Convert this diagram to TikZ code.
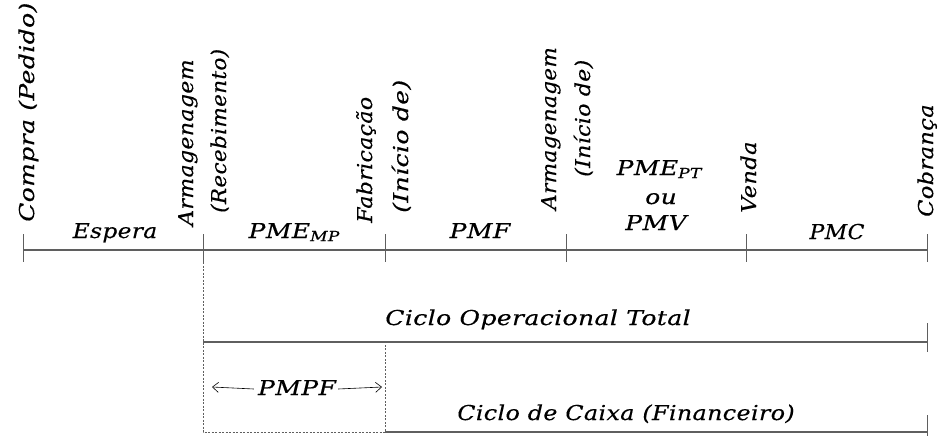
\documentclass[tikz,border=0pt]{standalone}
\usepackage{fontspec}
\usepackage{graphicx}
\setmainfont[FakeStretch=1.22,LetterSpace=2,FakeBold=0.4]{DejaVu Serif}
\usetikzlibrary{arrows.meta}
\definecolor{linegray}{RGB}{95,95,95}
\newcommand{\lowsub}[1]{\raisebox{-0.3ex}{\fontsize{14}{14}\selectfont #1}}
\newcommand{\hsq}[2]{\scalebox{#1}[1]{#2}}
\begin{document}
\begin{tikzpicture}[x=1pt,y=-1pt,
  lbl/.style={font=\fontsize{20.5}{24}\selectfont\itshape, inner sep=0pt, anchor=base},
  rlbl/.style={lbl, rotate=90, anchor=base west},
  axis/.style={draw=linegray, line width=1.1pt},
  tickln/.style={draw=linegray, line width=0.9pt},
  dashln/.style={draw=linegray, line width=0.8pt, dash pattern=on 2pt off 1.5pt},
  arr/.style={draw=black, line width=0.6pt, -{Straight Barb[length=6pt,width=10pt]}}]
\useasboundingbox (0,0) rectangle (941,436);
% main time line
\coordinate (t0) at (23,250);
\coordinate (t1) at (203,250);
\coordinate (t2) at (385,250);
\coordinate (t3) at (566,250);
\coordinate (t4) at (746,250);
\coordinate (t5) at (927,250);
\draw[axis] (t0) -- (t5);
\foreach \i in {0,...,5} \draw[tickln] ([yshift=16pt]t\i) -- ([yshift=-12pt]t\i);
% cycles
\coordinate (o1) at (203,342);
\coordinate (o3) at (385,342);
\coordinate (o2) at (927,342);
\coordinate (c1) at (385,432);
\coordinate (c2) at (927,432);
\coordinate (d1) at (203,432);
\draw[axis] (o1) -- (o2);
\draw[tickln] ([yshift=19pt]o2) -- ([yshift=-10pt]o2);
\draw[axis] (c1) -- (c2);
\draw[tickln] ([yshift=17pt]c2) -- ([yshift=-4pt]c2);
\draw[dashln] ([yshift=-12pt]t1) -- (d1) -- (c1) -- (o3);
% segment labels
\node[lbl] (esp) at (115,238) {\hsq{0.93}{Espera}};
\node[lbl] (pmemp) at (294,238) {PME\lowsub{MP}};
\node[lbl] (pmf) at (480,238) {PMF};
\node[lbl] (pmept) at (659,175) {PME\lowsub{PT}};
\node[lbl] (ou) at (661,204) {ou};
\node[lbl] (pmv) at (656,230) {PMV};
\node[lbl] (pmc) at (837,239) {\hsq{0.88}{PMC}};
\node[lbl] (cot) at (538,325) {Ciclo Operacional Total};
\node[lbl] (ccx) at (626,420) {\hsq{0.95}{Ciclo de Caixa (Financeiro)}};
\node[lbl] (pmpf) at (297,395) {PMPF};
\coordinate (al) at (212,387);
\coordinate (ar) at (382,387);
\draw[arr] ([xshift=-4pt,yshift=6pt]pmpf.base west) -- (al);
\draw[arr] ([xshift=2pt,yshift=6pt]pmpf.base east) -- (ar);
% event labels (rotated)
\node[rlbl] (compra) at (34,222) {Compra (Pedido)};
\node[rlbl] (arm1) at (193,226) {\hsq{0.88}{Armagenagem}};
\node[rlbl] (rec) at (226,213) {\hsq{0.86}{(Recebimento)}};
\node[rlbl] (fab) at (372,223) {\hsq{0.88}{Fabricação}};
\node[rlbl] (ini1) at (408,213) {(Início de)};
\node[rlbl] (arm2) at (556,210) {\hsq{0.86}{Armagenagem}};
\node[rlbl] (ini2) at (590,177) {\hsq{0.88}{(Início de)}};
\node[rlbl] (venda) at (756,213) {\hsq{0.9}{Venda}};
\node[rlbl] (cobr) at (933,217) {\hsq{0.9}{Cobrança}};
\end{tikzpicture}
\end{document}
